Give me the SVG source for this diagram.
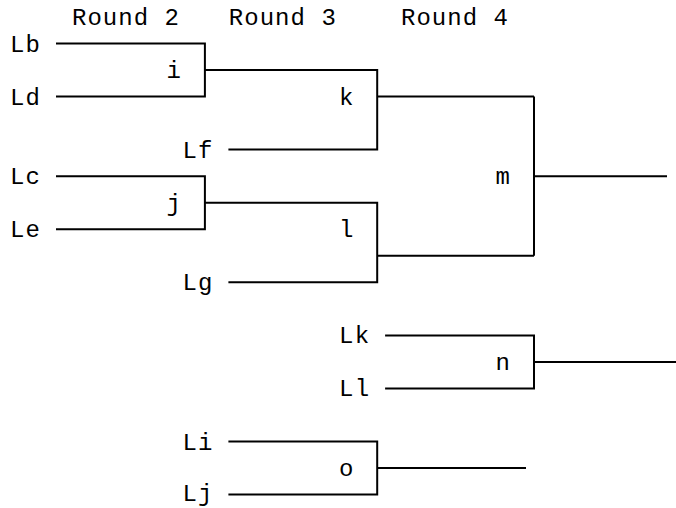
<svg xmlns="http://www.w3.org/2000/svg" width="676" height="508" viewBox="0 0 676 508">
<style>
text{font-family:"Liberation Mono","Courier New",monospace;font-size:24px;fill:#000}
.c path{fill:none;stroke:#000;stroke-width:2}
</style>
<rect width="676" height="508" fill="#fff"/>
<g id="headers">
<text x="72" y="25" textLength="107" lengthAdjust="spacing">Round 2</text>
<text x="228.8" y="25" textLength="107" lengthAdjust="spacing">Round 3</text>
<text x="401" y="25" textLength="107" lengthAdjust="spacing">Round 4</text>
</g>
<g class="c" id="connectors">
<path d="M56,43.5H204.9V96.6H56"/>
<path d="M204.9,70.1H377.2V149.6H228.4"/>
<path d="M377.2,96.6H534"/>
<path d="M56,176.2H204.9V229.2H56"/>
<path d="M204.9,202.7H377.2V282.3H228.4"/>
<path d="M377.2,255.8H534"/>
<path d="M534,96.6V255.8"/>
<path d="M534,176.2H667"/>
<path d="M385.1,335.4H534V388.4H385.1"/>
<path d="M534,361.9H680"/>
<path d="M228.4,441.5H377.2V494.5H228.4"/>
<path d="M377.2,468H526"/>
</g>
<g id="Lb"><text x="10" y="51.5" textLength="30">Lb</text></g>
<g id="Ld"><text x="10" y="104.6" textLength="30">Ld</text></g>
<g id="Lc"><text x="10" y="184.2" textLength="30">Lc</text></g>
<g id="Le"><text x="10" y="237.2" textLength="30">Le</text></g>
<g id="Lf"><text x="182.4" y="157.6" textLength="30">Lf</text></g>
<g id="Lg"><text x="182.4" y="290.3" textLength="30">Lg</text></g>
<g id="Lk"><text x="339.1" y="343.4" textLength="30">Lk</text></g>
<g id="Ll"><text x="339.1" y="396.4" textLength="30">Ll</text></g>
<g id="Li"><text x="182.4" y="449.5" textLength="30">Li</text></g>
<g id="Lj"><text x="182.4" y="501" textLength="30">Lj</text></g>
<g id="i"><text x="166.5" y="78.1">i</text></g>
<g id="j"><text x="166.5" y="210.7">j</text></g>
<g id="k"><text x="339" y="104.6">k</text></g>
<g id="l"><text x="339" y="237.2">l</text></g>
<g id="m"><text x="495.6" y="184.2">m</text></g>
<g id="n"><text x="495.6" y="369.9">n</text></g>
<g id="o"><text x="339" y="476">o</text></g>
</svg>
